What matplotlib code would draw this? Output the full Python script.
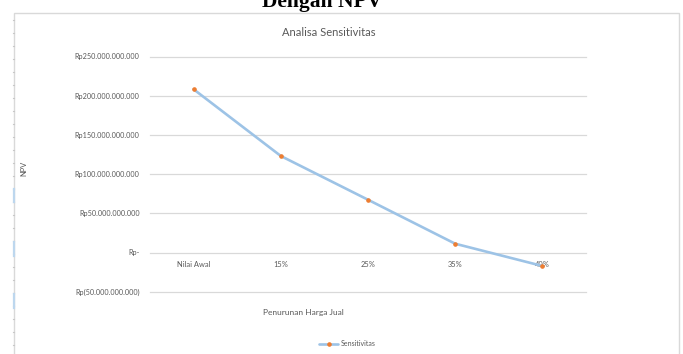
import matplotlib
matplotlib.use("Agg")
import matplotlib.pyplot as plt
from matplotlib.patches import Rectangle
from matplotlib.lines import Line2D

# ---- data ----
categories = ["Nilai Awal", "15%", "25%", "35%", "40%"]
npv_values = [208.2e9, 123.1e9, 67.3e9, 11.2e9, -17.2e9]
y_ticks = [-50e9, 0, 50e9, 100e9, 150e9, 200e9, 250e9]
y_tick_labels = ["Rp(50.000.000.000)", "Rp-", "Rp50.000.000.000",
                 "Rp100.000.000.000", "Rp150.000.000.000",
                 "Rp200.000.000.000", "Rp250.000.000.000"]
series_name = "Sensitivitas"
chart_title = "Analisa Sensitivitas"
x_title = "Penurunan Harga Jual"
y_title = "NPV"
doc_heading = "Dengan NPV"

W, H = 683, 354
fig = plt.figure(figsize=(W / 100, H / 100), dpi=100)
fig.patch.set_facecolor("white")

FONT = "Lato"
TXT = "#595959"
GRID = "#D9D9D9"

def fx(px):
    return px / W

def fy(py):
    return 1 - py / H

# chart frame border
fig.patches.append(Rectangle((fx(14), fy(360)), fx(679.5) - fx(14), fy(12.5) - fy(360),
                             transform=fig.transFigure, fill=False,
                             edgecolor=GRID, linewidth=1.0, zorder=0))

# document artefacts on the left (ruler dots and blue marks)
for yy in range(20, 354, 13):
    fig.add_artist(Line2D([fx(12.5), fx(13.8)], [fy(yy), fy(yy)],
                          transform=fig.transFigure, color="#C8C8C8", linewidth=0.8))
for y0, y1 in [(189, 202), (242, 256), (294, 308)]:
    fig.add_artist(Line2D([fx(13.5), fx(13.5)], [fy(y0), fy(y1)],
                          transform=fig.transFigure, color="#BDD7EE", linewidth=1.6))

# heading cut off at top
fig.text(fx(322), fy(6.5), doc_heading, ha="center", va="baseline",
         family="Liberation Serif", fontweight="bold", fontsize=15.5, color="black")

# axes
ax = fig.add_axes([fx(150), fy(291.7), fx(586) - fx(150), fy(56.5) - fy(291.7)])
ax.set_facecolor("none")
for s in ["top", "right", "left"]:
    ax.spines[s].set_visible(False)
ax.spines["bottom"].set_position(("data", 0))
ax.spines["bottom"].set_visible(False)

x = list(range(len(categories)))
ax.plot(x, npv_values, color="#9DC3E6", linewidth=1.9, solid_capstyle="round",
        zorder=3, label=series_name, marker="o", markersize=2.3,
        markerfacecolor="#ED7D31", markeredgecolor="#ED7D31")
ax.set_xlim(-0.5, len(categories) - 0.5)
ax.set_ylim(-50e9, 250e9)
ax.set_yticks(y_ticks)
ax.set_yticklabels(y_tick_labels, family=FONT, fontsize=5.2, color=TXT)
ax.set_xticks(x)
ax.set_xticklabels(categories, family=FONT, fontsize=5.4, color=TXT)
ax.tick_params(axis="y", length=0, pad=7.5)
ax.tick_params(axis="x", length=0, pad=6.2)
ax.grid(axis="y", color=GRID, linewidth=0.9, zorder=0)
ax.grid(axis="x", visible=False)
for gl in ax.get_ygridlines():
    gl.set_clip_on(False)

# titles
fig.text(fx(329), fy(32.5), chart_title, ha="center", va="center",
         family=FONT, fontsize=8.0, color=TXT)
fig.text(fx(303), fy(313), x_title, ha="center", va="center",
         family=FONT, fontsize=6.0, color=TXT)
fig.text(fx(24), fy(168), y_title, ha="center", va="center", rotation=90,
         family=FONT, fontsize=5.4, color=TXT)

# legend
leg = ax.legend(loc="center", bbox_to_anchor=(fx(347), fy(344)),
                bbox_transform=fig.transFigure, frameon=False,
                prop={"family": FONT, "size": 5.0}, handlelength=2.8,
                handletextpad=0.3, borderpad=0)
for t in leg.get_texts():
    t.set_color(TXT)

fig.savefig("out.png", dpi=100, facecolor="white")
